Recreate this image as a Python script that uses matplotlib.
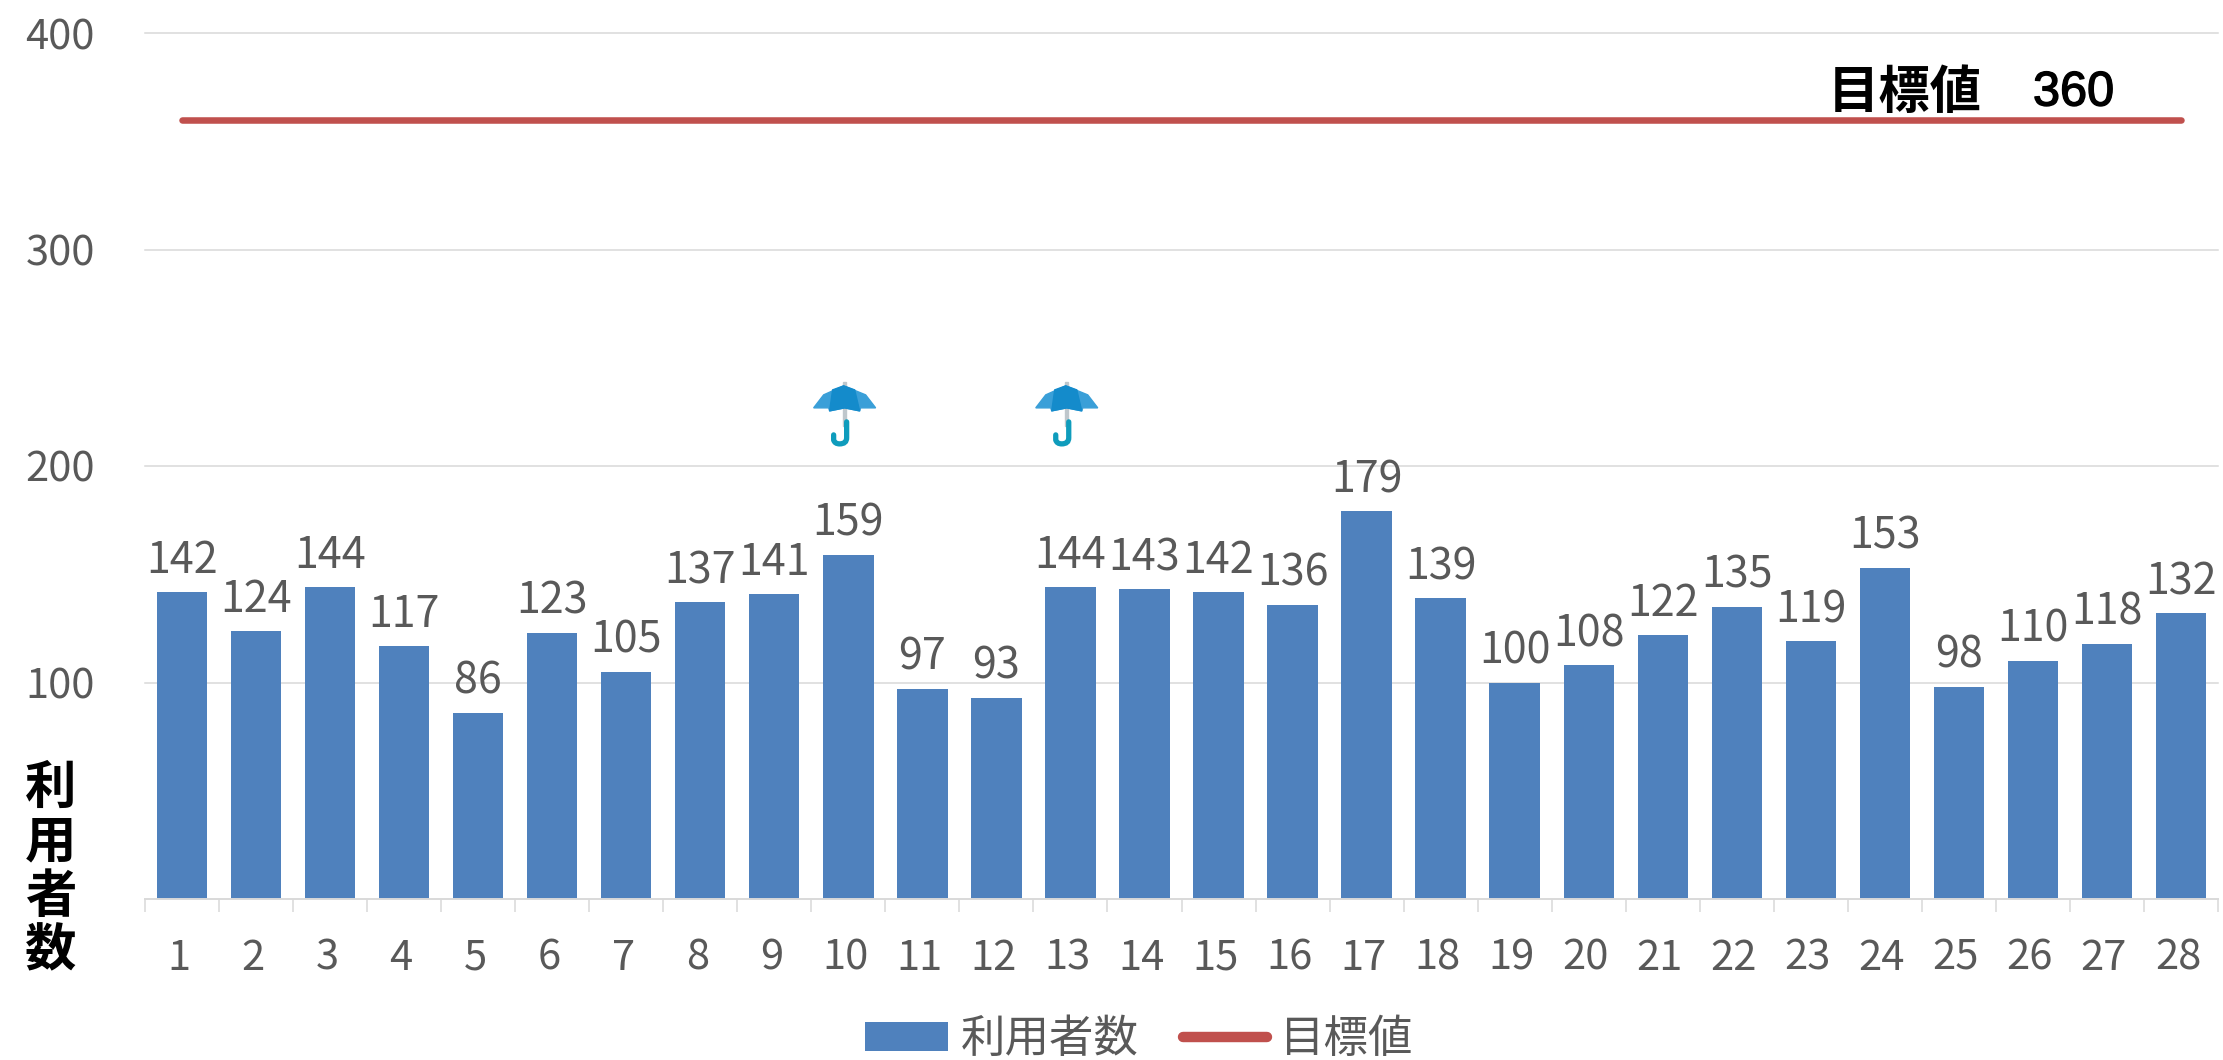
from __future__ import annotations

import matplotlib

matplotlib.use("Agg")

import matplotlib.patheffects as path_effects
import matplotlib.pyplot as plt
import numpy as np
from matplotlib.patches import PathPatch, Polygon
from matplotlib.path import Path
from matplotlib.transforms import Affine2D

plt.rcParams["font.family"] = ["Noto Sans CJK JP", "DejaVu Sans"]

days = list(range(1, 29))
users = [142, 124, 144, 117, 86, 123, 105, 137, 141, 159, 97, 93, 144, 143,
         142, 136, 179, 139, 100, 108, 122, 135, 119, 153, 98, 110, 118, 132]
target = 360
y_ticks = [0, 100, 200, 300, 400]
rainy_days = [10, 13]

BLUE = "#4F81BD"
RED = "#C0504D"
GRID = "#D9D9D9"
TEXT = "#595959"
W, H = 2223, 1060


def draw_umbrella(axis, x, y):
    """Draw the umbrella icon, in pixels around a data position."""
    px, py = axis.transData.transform((x, y))
    to_px = Affine2D().scale(1, -1).translate(px, py)
    shaft = [(-1.5, -30), (1.5, -30), (1.5, 14), (-1.5, 14)]
    axis.add_patch(Polygon(shaft, color="#BFC7CC", transform=to_px, zorder=3))
    canopy = [(-31, -4), (-21, -17), (-1, -26), (21, -17), (31, -4), (16, -4),
              (15, -1), (0, -4), (-15, -1), (-16, -4)]
    axis.add_patch(Polygon(canopy, color="#3A9FD8", transform=to_px, zorder=4))
    middle = [(-12, -22), (-1, -26), (10, -22), (15, -1), (0, -4), (-15, -1)]
    axis.add_patch(Polygon(middle, color="#148BCB", transform=to_px, zorder=5))
    hook = Path(
        [(2, 10), (2, 26), (2, 32), (-5, 32), (-10, 32), (-11, 28), (-11, 23)],
        [Path.MOVETO, Path.LINETO, Path.CURVE3, Path.CURVE3, Path.CURVE3, Path.CURVE3, Path.LINETO],
    )
    axis.add_patch(PathPatch(hook, fc="none", ec="#0F9CBC", lw=3.8, capstyle="round",
                             transform=to_px, zorder=5))


figure = plt.figure(figsize=(W / 100, H / 100), dpi=100)
axis = figure.add_axes([145 / W, (H - 899) / H, (2218 - 145) / W, (899 - 33) / H])
positions = np.arange(len(days))

bars = axis.bar(positions, users, width=0.68, color=BLUE, label="利用者数", zorder=2)
target_line, = axis.plot(positions, [target] * len(days), color=RED, lw=4.7,
                         solid_capstyle="round", label="目標値", zorder=3)
axis.bar_label(bars, padding=6.5, fontsize=31, color=TEXT)

axis.set_xlim(-0.5, len(days) - 0.5)
axis.set_ylim(y_ticks[0], y_ticks[-1])
axis.set_yticks(y_ticks[1:])
axis.set_xticks(positions, [str(day) for day in days])
axis.set_xticks(np.r_[positions - 0.5, positions[-1] + 0.5], minor=True)
axis.tick_params(axis="x", which="major", length=0, pad=28, labelsize=30, labelcolor=TEXT)
axis.tick_params(axis="x", which="minor", length=9.5, width=1.1, color=GRID)
axis.tick_params(axis="y", length=0, pad=36, labelsize=30, labelcolor=TEXT)
axis.grid(axis="y", color=GRID, lw=1.1, zorder=0)
axis.set_axisbelow(True)
for gridline in axis.get_ygridlines():
    gridline.set_clip_on(False)
for side in ["top", "right", "left"]:
    axis.spines[side].set_visible(False)
axis.spines["bottom"].set_color(GRID)
axis.spines["bottom"].set_linewidth(1.4)
for label in axis.get_xticklabels():
    label.set_transform(label.get_transform() + Affine2D().translate(-3, 0))

axis.text(23.27, 365.5, "目標値", ha="center", va="baseline", fontsize=37,
          fontweight="bold", color="black")
value_text = axis.text(25.55, 366.5, str(target), ha="center", va="baseline", fontsize=35,
                       color="black", family="Liberation Sans")
value_text.set_path_effects([path_effects.withStroke(linewidth=1, foreground="black")])
figure.text(51 / W, (H - 869) / H, "利\n用\n者\n数", ha="center", va="center", fontsize=37,
            fontweight="bold", color="black", linespacing=1.03)

for day in rainy_days:
    draw_umbrella(axis, positions[days.index(day)] - 0.05, 225)

legend = axis.legend(handles=[bars, target_line], loc="center",
                     bbox_to_anchor=(1139 / W, (H - 1039) / H),
                     bbox_transform=figure.transFigure, ncol=2, frameon=False, fontsize=32,
                     labelcolor=TEXT, handlelength=1.87, handleheight=0.65, handletextpad=0.3,
                     columnspacing=1.0, borderpad=0, borderaxespad=0)
legend.legend_handles[1].set_linewidth(7.5)
legend.legend_handles[1].set_solid_capstyle("round")

figure.savefig("out.png", dpi=100)
plt.close(figure)
